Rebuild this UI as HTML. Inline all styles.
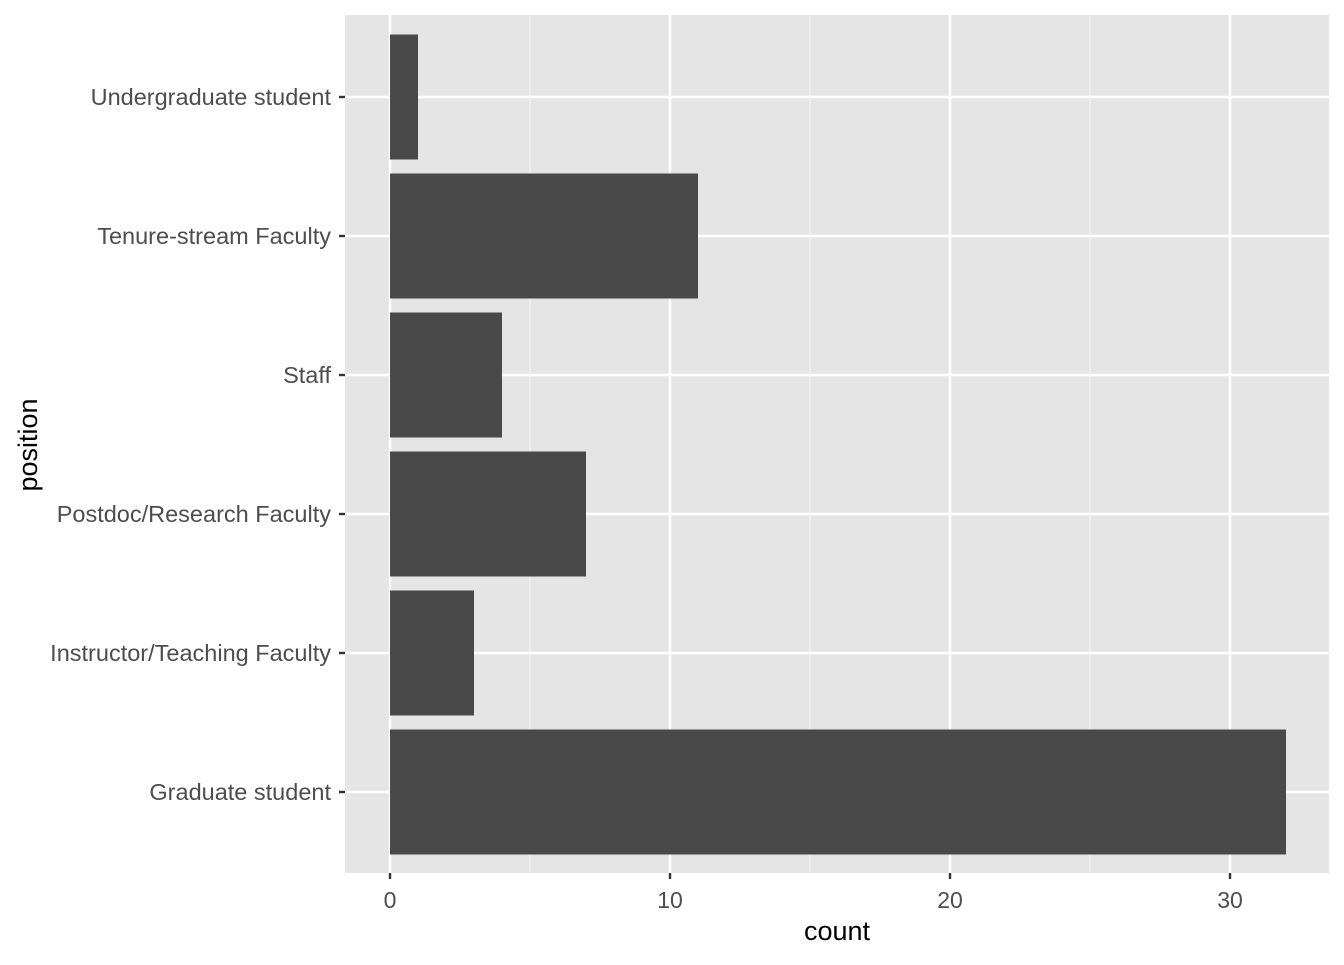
<!DOCTYPE html>
<html><head><meta charset="utf-8"><style>
body{margin:0;background:#fff;}
svg text{font-family:"Liberation Sans",Arial,sans-serif;}
</style></head><body>
<svg id="chart" width="1344" height="960" xmlns="http://www.w3.org/2000/svg">
<rect x="0" y="0" width="1344" height="960" fill="#fff"/>
<rect id="panel" x="345" y="15" width="984" height="858" fill="#e5e5e5"/>
<g id="grid"></g>
<g id="bars"></g>
<g id="axes"></g>
<text x="837" y="940" font-size="27" text-anchor="middle" fill="#000">count</text>
<text x="0" y="0" transform="translate(37,445) rotate(-90)" font-size="27" text-anchor="middle" fill="#000">position</text>
</svg>
<script>
const categories = ["Graduate student","Instructor/Teaching Faculty","Postdoc/Research Faculty","Staff","Tenure-stream Faculty","Undergraduate student"];
const counts = [32,3,7,4,11,1];
const xTicks = [0,10,20,30];
const xMinor = [5,15,25];

const NS="http://www.w3.org/2000/svg";
const px0=345, px1=1329, py0=15, py1=873;
function xs(v){ return 390 + v*28; }
const step=139;
function yc(i){ return 792 - i*step; }
function mk(tag, attrs, parent){ const e=document.createElementNS(NS,tag); for(const k in attrs) e.setAttribute(k,attrs[k]); parent.appendChild(e); return e; }
const grid=document.getElementById('grid'), bars=document.getElementById('bars'), axes=document.getElementById('axes');
xMinor.forEach(v=>{ const l=mk('line',{x1:xs(v),x2:xs(v),y1:py0,y2:py1,stroke:'#f2f2f2','stroke-width':1.2},grid);
  });
xTicks.forEach(v=>{ const l=mk('line',{x1:xs(v),x2:xs(v),y1:py0,y2:py1,stroke:'#fff','stroke-width':2.4},grid);
 
const t=mk('line',{x1:xs(v),x2:xs(v),y1:py1,y2:py1+6,stroke:'#333','stroke-width':2.4},axes);
 
const tx=mk('text',{x:xs(v),y:py1+35,'font-size':23,'text-anchor':'middle',fill:'#4d4d4d'},axes); tx.textContent=v;
  });
categories.forEach((c,i)=>{ const y=yc(i);
const l=mk('line',{x1:px0,x2:px1,y1:y,y2:y,stroke:'#fff','stroke-width':2.4},grid);
 
const b=mk('rect',{x:xs(0),y:y-62.5,width:xs(counts[i])-xs(0),height:125,fill:'#494949'},bars);
 
const t=mk('line',{x1:px0-6,x2:px0,y1:y,y2:y,stroke:'#333','stroke-width':2.4},axes);
 
const tx=mk('text',{x:px0-14,y:y+8,'font-size':23.5,'text-anchor':'end',fill:'#4d4d4d'},axes); tx.textContent=c;
  });
</script>
</body></html>
